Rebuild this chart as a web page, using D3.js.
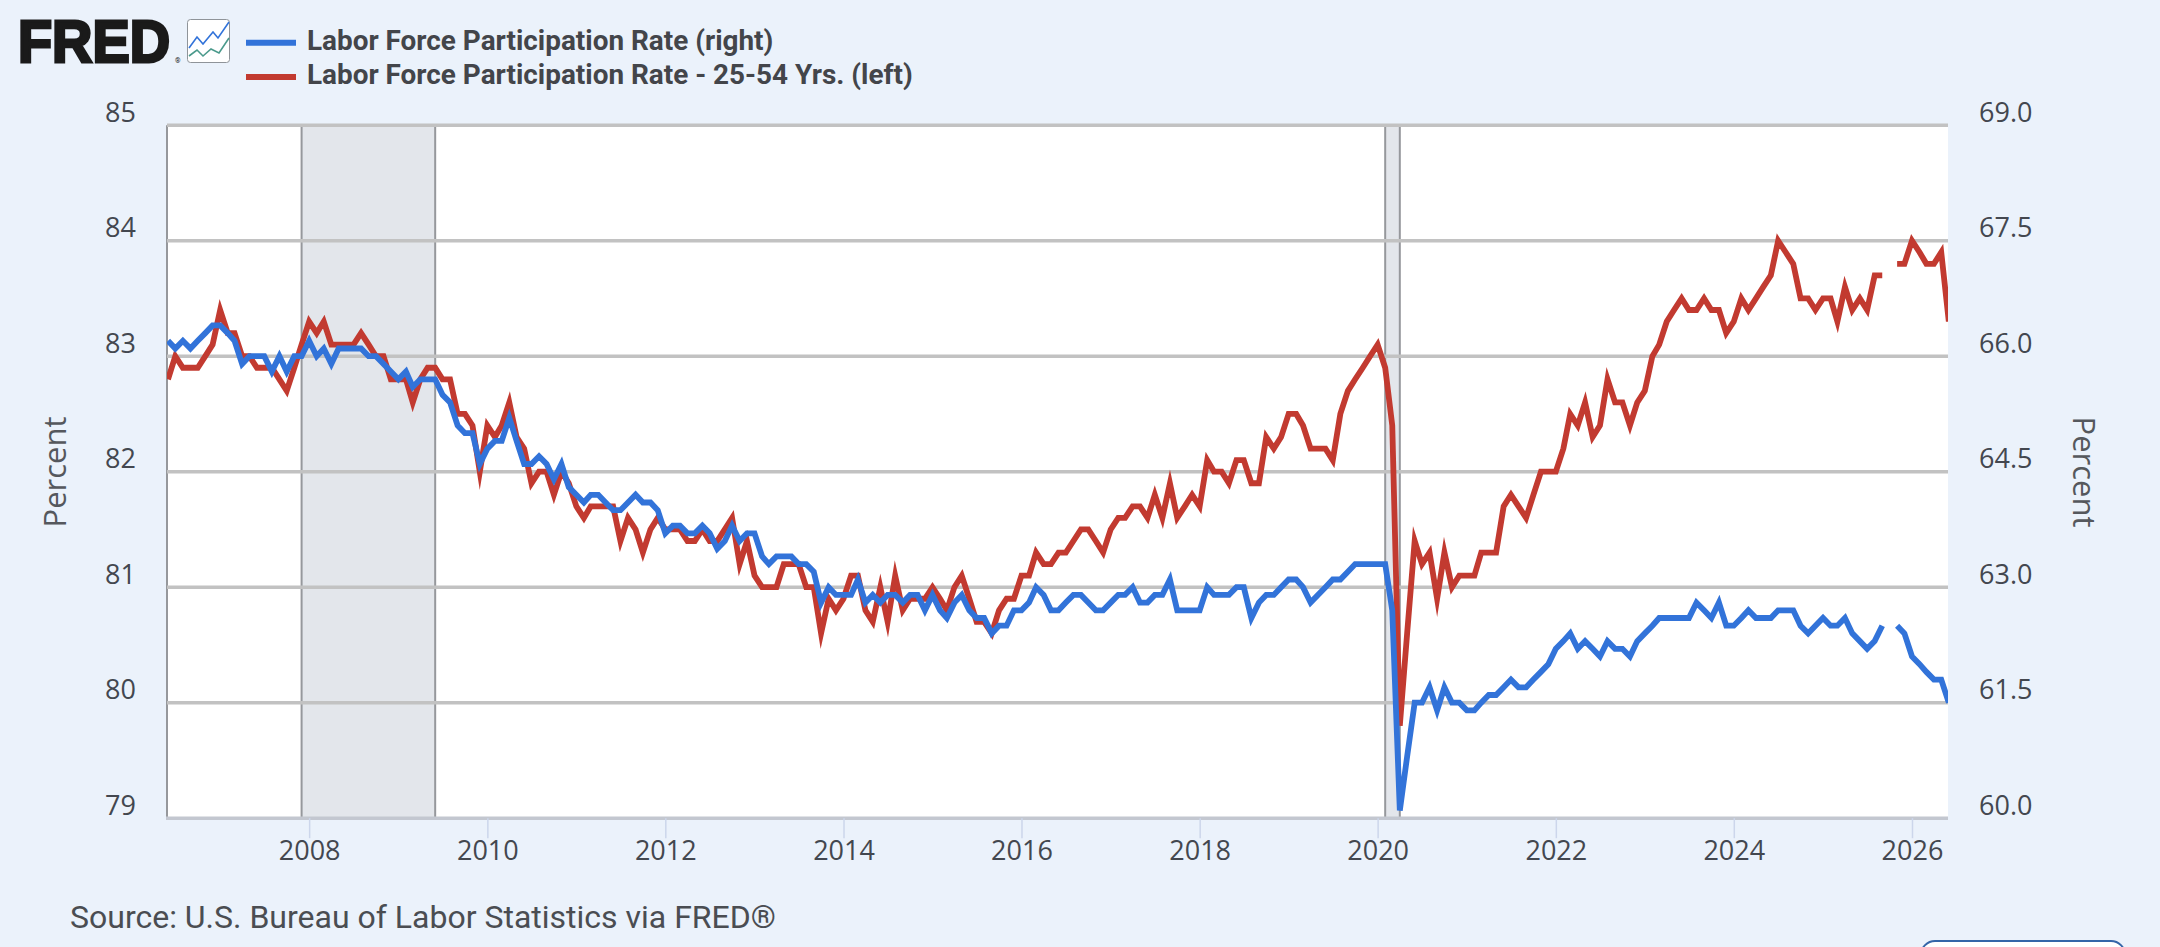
<!DOCTYPE html>
<html>
<head>
<meta charset="utf-8">
<title>Labor Force Participation Rate</title>
<script src="https://cdn.jsdelivr.net/npm/d3@7"></script>
<style>
  html, body { margin: 0; padding: 0; background: #ebf2fb; overflow: hidden; }
  svg { display: block; }
  .tick-label { font-family: "Open Sans", sans-serif; font-size: 27px; fill: #43474f; }
  .axis-title { font-family: "Open Sans", sans-serif; font-size: 31px; fill: #55585d; }
  .legend-label { font-family: Roboto, sans-serif; font-weight: 700; font-size: 27.9px; fill: #43454a; }
  .source { font-family: Roboto, sans-serif; font-size: 32px; fill: #4a4d52; }
</style>
</head>
<body>
<svg id="chart" width="2160" height="947"></svg>
<script>
// Monthly observations, first value is June 2006; null marks the month with no release.
const firstMonth = "2006-06-01";

const totalRate = [
  66.2,66.1,66.2,66.1,66.2,66.3,66.4,
  66.4,66.3,66.2,65.9,66.0,66.0,66.0,65.8,66.0,65.8,66.0,66.0,
  66.2,66.0,66.1,65.9,66.1,66.1,66.1,66.1,66.0,66.0,65.9,65.8,
  65.7,65.8,65.6,65.7,65.7,65.7,65.5,65.4,65.1,65.0,65.0,64.6,
  64.8,64.9,64.9,65.2,64.9,64.6,64.6,64.7,64.6,64.4,64.6,64.3,
  64.2,64.1,64.2,64.2,64.1,64.0,64.0,64.1,64.2,64.1,64.1,64.0,
  63.7,63.8,63.8,63.7,63.7,63.8,63.7,63.5,63.6,63.8,63.6,63.7,
  63.7,63.4,63.3,63.4,63.4,63.4,63.3,63.3,63.2,62.8,63.0,62.9,
  62.9,62.9,63.1,62.8,62.9,62.8,62.9,62.9,62.8,62.9,62.9,62.7,
  62.9,62.7,62.6,62.8,62.9,62.7,62.6,62.6,62.4,62.5,62.5,62.7,
  62.7,62.8,63.0,62.9,62.7,62.7,62.8,62.9,62.9,62.8,62.7,62.7,
  62.8,62.9,62.9,63.0,62.8,62.8,62.9,62.9,63.1,62.7,62.7,62.7,
  62.7,63.0,62.9,62.9,62.9,63.0,63.0,62.6,62.8,62.9,62.9,63.0,
  63.1,63.1,63.0,62.8,62.9,63.0,63.1,63.1,63.2,63.3,63.3,63.3,
  63.3,63.3,62.7,60.1,60.8,61.5,61.5,61.7,61.4,61.7,61.5,61.5,
  61.4,61.4,61.5,61.6,61.6,61.7,61.8,61.7,61.7,61.8,61.9,62.0,
  62.2,62.3,62.4,62.2,62.3,62.2,62.1,62.3,62.2,62.2,62.1,62.3,
  62.4,62.5,62.6,62.6,62.6,62.6,62.6,62.8,62.7,62.6,62.8,62.5,
  62.5,62.6,62.7,62.6,62.6,62.6,62.7,62.7,62.7,62.5,62.4,62.5,
  62.6,62.5,62.5,62.6,62.4,62.3,62.2,62.3,62.5,null,62.5,62.4,
  62.1,62.0,61.9,61.8,61.8,61.5
];

const primeAgeRate = [
  82.8,83.0,82.9,82.9,82.9,83.0,83.1,
  83.4,83.2,83.2,83.0,83.0,82.9,82.9,82.9,82.8,82.7,82.9,83.1,
  83.3,83.2,83.3,83.1,83.1,83.1,83.1,83.2,83.1,83.0,83.0,82.8,
  82.8,82.8,82.6,82.8,82.9,82.9,82.8,82.8,82.5,82.5,82.4,82.0,
  82.4,82.3,82.4,82.6,82.3,82.2,81.9,82.0,82.0,81.8,82.0,81.9,
  81.7,81.6,81.7,81.7,81.7,81.7,81.4,81.6,81.5,81.3,81.5,81.6,
  81.5,81.5,81.5,81.4,81.4,81.5,81.4,81.4,81.5,81.6,81.2,81.4,
  81.1,81.0,81.0,81.0,81.2,81.2,81.2,81.0,81.0,80.6,80.9,80.8,
  80.9,81.1,81.1,80.8,80.7,81.0,80.7,81.1,80.8,80.9,80.9,80.9,
  81.0,80.9,80.8,81.0,81.1,80.9,80.7,80.7,80.6,80.8,80.9,80.9,
  81.1,81.1,81.3,81.2,81.2,81.3,81.3,81.4,81.5,81.5,81.4,81.3,
  81.5,81.6,81.6,81.7,81.7,81.6,81.8,81.6,81.9,81.6,81.7,81.8,
  81.7,82.1,82.0,82.0,81.9,82.1,82.1,81.9,81.9,82.3,82.2,82.3,
  82.5,82.5,82.4,82.2,82.2,82.2,82.1,82.5,82.7,82.8,82.9,83.0,
  83.1,82.9,82.4,79.8,80.6,81.4,81.2,81.3,80.9,81.3,81.0,81.1,
  81.1,81.1,81.3,81.3,81.3,81.7,81.8,81.7,81.6,81.8,82.0,82.0,
  82.0,82.2,82.5,82.4,82.6,82.3,82.4,82.8,82.6,82.6,82.4,82.6,
  82.7,83.0,83.1,83.3,83.4,83.5,83.4,83.4,83.5,83.4,83.4,83.2,
  83.3,83.5,83.4,83.5,83.6,83.7,84.0,83.9,83.8,83.5,83.5,83.4,
  83.5,83.5,83.3,83.6,83.4,83.5,83.4,83.7,83.7,null,83.8,83.8,
  84.0,83.9,83.8,83.8,83.9,83.3
];

const recessions = [["2007-12-01", "2009-06-01"], ["2020-02-01", "2020-04-01"]];
const yearTicks = [2008, 2010, 2012, 2014, 2016, 2018, 2020, 2022, 2024, 2026];
const leftTicks = [79, 80, 81, 82, 83, 84, 85];
const rightTicks = [60, 61.5, 63, 64.5, 66, 67.5, 69];
const legendItems = [
  { label: "Labor Force Participation Rate (right)", color: "#3273d9" },
  { label: "Labor Force Participation Rate - 25-54 Yrs. (left)", color: "#c23a30" }
];

const svg = d3.select("#chart");
const plot = { left: 167, right: 1948, top: 125.2, bottom: 818.2 };
const parse = d3.utcParse("%Y-%m-%d");
const start = parse(firstMonth);
const dateAt = i => d3.utcMonth.offset(start, i);

const x = d3.scaleUtc()
  .domain([start, dateAt(totalRate.length - 1)])
  .range([168, 1948.8]);
const yLeft = d3.scaleLinear().domain([79, 85]).range([plot.bottom, plot.top]);
const yRight = d3.scaleLinear().domain([60, 69]).range([plot.bottom, plot.top]);

svg.append("defs").append("clipPath").attr("id", "plot-clip").append("rect")
  .attr("x", plot.left).attr("y", plot.top - 4)
  .attr("width", plot.right - plot.left).attr("height", plot.bottom - plot.top + 8);

// Plot background
svg.append("rect")
  .attr("x", plot.left).attr("y", plot.top)
  .attr("width", plot.right - plot.left).attr("height", plot.bottom - plot.top)
  .attr("fill", "#ffffff");

// Recession bands with their edge rules
const bands = svg.append("g").selectAll("g").data(recessions).join("g");
bands.append("rect")
  .attr("x", d => x(parse(d[0])))
  .attr("width", d => x(parse(d[1])) - x(parse(d[0])))
  .attr("y", plot.top).attr("height", plot.bottom - plot.top)
  .attr("fill", "#e3e6eb");
bands.selectAll("line").data(d => d).join("line")
  .attr("x1", d => x(parse(d))).attr("x2", d => x(parse(d)))
  .attr("y1", plot.top).attr("y2", plot.bottom)
  .attr("stroke", "#96989c").attr("stroke-width", 2);

// Left edge of the plot
svg.append("line")
  .attr("x1", plot.left).attr("x2", plot.left)
  .attr("y1", plot.top).attr("y2", plot.bottom)
  .attr("stroke", "#96989c").attr("stroke-width", 2);

// Horizontal grid, shared by both value axes
svg.append("g").selectAll("line").data(leftTicks.slice(1)).join("line")
  .attr("x1", plot.left).attr("x2", plot.right)
  .attr("y1", d => yLeft(d)).attr("y2", d => yLeft(d))
  .attr("stroke", "#c2c2c2").attr("stroke-width", 3.4);
svg.append("line")
  .attr("x1", plot.left - 1).attr("x2", plot.right)
  .attr("y1", plot.bottom).attr("y2", plot.bottom)
  .attr("stroke", "#c3c7d0").attr("stroke-width", 3.4);

// Series
const lineFor = (scale) => d3.line()
  .defined(d => d != null)
  .x((d, i) => x(dateAt(i)))
  .y(d => scale(d));
const seriesLayer = svg.append("g").attr("clip-path", "url(#plot-clip)");
[[primeAgeRate, yLeft, legendItems[1].color], [totalRate, yRight, legendItems[0].color]]
  .forEach(([values, scale, color]) => {
    seriesLayer.append("path")
      .attr("d", lineFor(scale)(values))
      .attr("fill", "none")
      .attr("stroke", color)
      .attr("stroke-width", 5.8)
      .attr("stroke-linejoin", "miter")
      .attr("stroke-miterlimit", 10)
      .attr("stroke-linecap", "butt");
  });

// Axes
const xAxis = svg.append("g").attr("transform", `translate(0,${plot.bottom})`)
  .call(d3.axisBottom(x)
    .tickValues(yearTicks.map(y => new Date(Date.UTC(y, 0, 1))))
    .tickFormat(d3.utcFormat("%Y")).tickSize(20).tickPadding(3));
xAxis.select(".domain").remove();
xAxis.selectAll(".tick line").attr("stroke", "#ccd6eb").attr("stroke-width", 1.5);
xAxis.selectAll("text").attr("class", "tick-label");

const leftAxis = svg.append("g").attr("transform", `translate(136,0)`)
  .call(d3.axisLeft(yLeft).tickValues(leftTicks).tickFormat(d3.format("d")).tickSize(0).tickPadding(0));
leftAxis.select(".domain").remove();
leftAxis.selectAll("text").attr("class", "tick-label").attr("dy", "-0.15em");

const rightAxis = svg.append("g").attr("transform", `translate(1979,0)`)
  .call(d3.axisRight(yRight).tickValues(rightTicks).tickFormat(d3.format(".1f")).tickSize(0).tickPadding(0));
rightAxis.select(".domain").remove();
rightAxis.selectAll("text").attr("class", "tick-label").attr("dy", "-0.15em");

svg.append("text").attr("class", "axis-title")
  .attr("transform", "translate(55,472) rotate(-90)")
  .attr("text-anchor", "middle").attr("dy", "0.35em").text("Percent");
svg.append("text").attr("class", "axis-title")
  .attr("transform", "translate(2084,472) rotate(90)")
  .attr("text-anchor", "middle").attr("dy", "0.35em").text("Percent");

// Legend
const legend = svg.append("g").selectAll("g").data(legendItems).join("g")
  .attr("transform", (d, i) => `translate(0,${42.7 + i * 34.3})`);
legend.append("line").attr("x1", 246).attr("x2", 296)
  .attr("stroke", d => d.color).attr("stroke-width", 6);
legend.append("text").attr("class", "legend-label")
  .attr("x", 307).attr("y", 7).text(d => d.label);

// FRED wordmark and its small chart icon
const logo = svg.append("g");
logo.append("text").attr("x", 18).attr("y", 62)
  .attr("font-family", "'Liberation Sans', Arial, sans-serif")
  .attr("font-weight", 700).attr("font-size", 60)
  .attr("textLength", 152).attr("lengthAdjust", "spacingAndGlyphs")
  .attr("fill", "#1a1a1a").attr("stroke", "#1a1a1a").attr("stroke-width", 3)
  .text("FRED");
logo.append("text").attr("x", 175).attr("y", 63)
  .attr("font-family", "Roboto, sans-serif").attr("font-size", 7).attr("fill", "#1a1a1a").text("®");
logo.append("rect").attr("x", 187.5).attr("y", 19.5).attr("width", 42).attr("height", 43).attr("rx", 3)
  .attr("fill", "#ffffff").attr("stroke", "#8f9499").attr("stroke-width", 1);
logo.append("polyline").attr("points", "189,48 197,37 203,44 213,32 218,38 229,22")
  .attr("fill", "none").attr("stroke", "#3273d9").attr("stroke-width", 1.6);
logo.append("polyline").attr("points", "189,56 197,50 203,56 211,49 219,53 229,38")
  .attr("fill", "none").attr("stroke", "#4b9a8c").attr("stroke-width", 1.6);

// Source note
svg.append("text").attr("class", "source").attr("x", 70).attr("y", 928)
  .text("Source: U.S. Bureau of Labor Statistics via FRED®");

// Top of the button cut off by the page edge
svg.append("rect").attr("x", 1921).attr("y", 941).attr("width", 204).attr("height", 30).attr("rx", 14)
  .attr("fill", "#ffffff").attr("stroke", "#3465a8").attr("stroke-width", 2);
</script>
</body>
</html>
